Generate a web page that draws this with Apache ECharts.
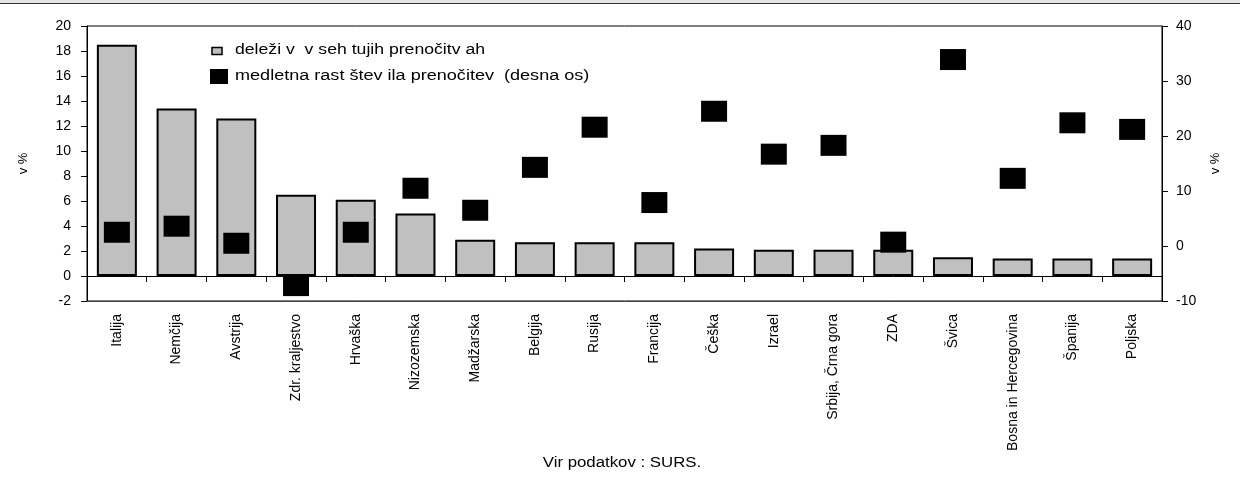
<!DOCTYPE html>
<html>
<head>
<meta charset="utf-8">
<script src="https://cdn.jsdelivr.net/npm/echarts@6/dist/echarts.min.js"></script>
<style>
html,body{margin:0;padding:0;background:#fff;}
#c{width:1240px;height:484px;}
</style>
</head>
<body>
<div id="c"></div>
<script>
const categories = ['Italija','Nemčija','Avstrija','Zdr. kraljestvo','Hrvaška','Nizozemska','Madžarska','Belgija','Rusija','Francija','Češka','Izrael','Srbija, Črna gora','ZDA','Švica','Bosna in Hercegovina','Španija','Poljska'];
const shareValues = [18.5,13.4,12.6,6.5,6.1,5.0,2.9,2.7,2.7,2.7,2.2,2.1,2.1,2.1,1.5,1.4,1.4,1.4];
const growthValues = [2.5,3.6,0.5,-7.2,2.5,10.5,6.5,14.3,21.6,7.9,24.5,16.7,18.3,0.7,33.9,12.3,22.4,21.2];
const seriesNames = ['deleži v  v seh tujih prenočitv ah','medletna rast štev ila prenočitev  (desna os)'];
const leftTicks = {min:-2, max:20, interval:2};
const rightTicks = {min:-10, max:40, interval:10};
const axisName = 'v %';
const sourceText = 'Vir podatkov : SURS.';

const FONT = 'Liberation Sans, Arial, sans-serif';
const chart = echarts.init(document.getElementById('c'), null, {renderer:'canvas'});
chart.setOption({
  animation:false,
  backgroundColor:'#fff',
  textStyle:{fontFamily:FONT},
  grid:{left:87, right:78, top:26, bottom:183, show:true, borderColor:'#000', borderWidth:1, backgroundColor:'transparent'},
  xAxis:[
    {type:'category', data:categories, position:'bottom',
     axisLine:{show:true, onZero:true, lineStyle:{color:'#000', width:1}},
     axisTick:{show:true, interval:0, length:6, lineStyle:{color:'#000'}},
     axisLabel:{show:false}, splitLine:{show:false}},
    {type:'category', data:categories, position:'bottom',
     axisLine:{show:true, onZero:false, lineStyle:{color:'#444', width:1}},
     axisTick:{show:false},
     axisLabel:{show:true, rotate:90, margin:13, fontSize:14, color:'#000', fontFamily:FONT, interval:0},
     splitLine:{show:false}}
  ],
  yAxis:[
    {type:'value', position:'left', min:leftTicks.min, max:leftTicks.max, interval:leftTicks.interval,
     name:axisName, nameLocation:'middle', nameRotate:90, nameGap:57,
     nameTextStyle:{fontSize:13, color:'#000', fontFamily:FONT},
     axisLine:{show:true, lineStyle:{color:'#000'}},
     axisTick:{show:true, length:6, lineStyle:{color:'#000'}},
     axisLabel:{fontSize:14, color:'#000', margin:16, fontFamily:FONT},
     splitLine:{show:false}},
    {type:'value', position:'right', min:rightTicks.min, max:rightTicks.max, interval:rightTicks.interval,
     name:axisName, nameLocation:'middle', nameRotate:90, nameGap:47,
     nameTextStyle:{fontSize:13, color:'#000', fontFamily:FONT},
     axisLine:{show:true, lineStyle:{color:'#000'}},
     axisTick:{show:true, length:6, lineStyle:{color:'#000'}},
     axisLabel:{fontSize:14, color:'#000', margin:14, fontFamily:FONT},
     splitLine:{show:false}}
  ],
  series:[
    {name:seriesNames[0], type:'bar', xAxisIndex:0, yAxisIndex:0, data:shareValues, barWidth:40,
     itemStyle:{color:'#c0c0c0', borderColor:'#000', borderWidth:2}, z:2},
    {name:seriesNames[1], type:'scatter', xAxisIndex:0, yAxisIndex:1, data:growthValues,
     symbol:'rect', symbolSize:[26,21], itemStyle:{color:'#000', opacity:1}, z:5}
  ],
  graphic:[
    {type:'rect', shape:{x:0, y:0, width:1240, height:3}, style:{fill:'#e4e4e4'}},
    {type:'line', shape:{x1:0, y1:3.5, x2:1240, y2:3.5}, style:{stroke:'#333', lineWidth:1}},
    {type:'rect', shape:{x:212, y:47.5, width:10, height:7}, style:{fill:'#c0c0c0', stroke:'#000', lineWidth:1.5}},
    {type:'text', x:235, y:50, scaleX:1.26, style:{text:seriesNames[0], font:'14px '+FONT, fill:'#000', verticalAlign:'middle'}},
    {type:'rect', shape:{x:210, y:69, width:18, height:15}, style:{fill:'#000'}},
    {type:'text', x:235, y:76, scaleX:1.29, style:{text:seriesNames[1], font:'14px '+FONT, fill:'#000', verticalAlign:'middle'}},
    {type:'text', x:622, y:463, scaleX:1.2, style:{text:sourceText, font:'14px '+FONT, fill:'#000', align:'center', verticalAlign:'middle'}}
  ]
});
</script>
</body>
</html>
